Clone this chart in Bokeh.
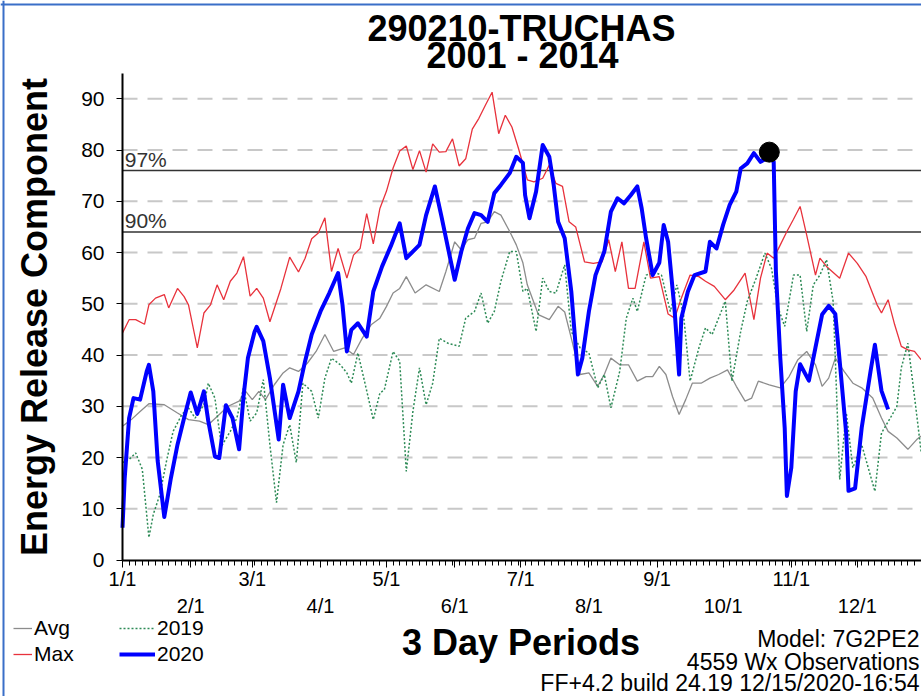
from bokeh.plotting import figure
from bokeh.models import Range1d, FixedTicker, LinearAxis, Label, Legend, LegendItem, Span
from bokeh.embed import file_html
from bokeh.resources import INLINE

# ---------------- data (day of year, ERC value) ----------------
month_days = [0, 31, 59, 90, 120, 151, 181, 212, 243, 273, 304, 334]
month_labels = ["1/1", "2/1", "3/1", "4/1", "5/1", "6/1", "7/1", "8/1", "9/1", "10/1", "11/1", "12/1"]
y_ticks = [0, 10, 20, 30, 40, 50, 60, 70, 80, 90]
year_days = [0, 363]

avg_day = [0, 4, 8, 12, 19, 25, 30, 35, 39, 44, 48, 53, 56, 59, 62, 65, 69, 73, 76, 80, 84, 88, 92, 96,
           101, 105, 109, 113, 117, 120, 123, 126, 129, 133, 138, 144, 147, 151, 154, 157, 160, 163, 166,
           169, 172, 176, 179, 182, 184, 189, 194, 198, 201, 204, 208, 212, 216, 219, 222, 226, 230, 234,
           238, 241, 244, 247, 250, 253, 256, 259, 263, 267, 271, 275, 279, 283, 286, 289, 294, 299, 303,
           307, 311, 315, 318, 321, 324, 328, 332, 336, 341, 345, 348, 352, 357, 361, 363]
avg_val = [26.1, 27.4, 29.0, 30.5, 30.3, 28.7, 27.4, 27.1, 26.4, 28.4, 30.0, 31.0, 32.9, 31.3, 32.9, 31.3,
           34.2, 36.5, 37.5, 36.8, 38.4, 40.7, 44.0, 40.7, 41.4, 40.1, 43.3, 45.9, 47.2, 49.5, 52.1, 53.0,
           55.3, 52.1, 53.7, 52.4, 56.3, 62.1, 60.5, 62.5, 62.8, 65.7, 66.0, 68.0, 67.3, 64.1, 61.5, 58.0,
           53.7, 47.9, 46.9, 49.5, 48.4, 43.3, 36.2, 36.5, 33.9, 36.2, 39.4, 38.1, 38.1, 34.9, 35.8, 35.8,
           37.8, 36.2, 31.9, 28.4, 31.3, 34.5, 34.5, 35.5, 36.2, 37.1, 33.9, 31.0, 31.6, 34.9, 34.2, 33.6,
           35.8, 39.1, 40.7, 38.1, 33.9, 35.5, 39.4, 36.8, 34.5, 33.6, 31.6, 27.7, 25.1, 23.8, 21.6, 23.5, 24.2]

max_day = [0, 3, 6, 10, 12, 15, 19, 21, 25, 28, 30, 34, 37, 40, 43, 46, 49, 52, 55, 58, 61, 64, 67, 72,
           76, 80, 83, 86, 89, 92, 95, 98, 102, 105, 108, 111, 114, 117, 120, 123, 126, 129, 132, 135,
           138, 141, 144, 147, 150, 153, 156, 159, 162, 165, 168, 171, 174, 177, 180, 184, 187, 191, 194,
           197, 200, 203, 206, 210, 214, 218, 221, 224, 227, 230, 233, 237, 240, 244, 248, 251, 254, 258,
           262, 265, 269, 274, 278, 283, 287, 290, 293, 296, 299, 302, 305, 308, 311, 315, 317, 320, 326,
           330, 334, 338, 343, 345, 348, 351, 354, 357, 360, 363]
max_val = [44.3, 46.9, 46.9, 46.0, 49.8, 51.1, 51.8, 49.2, 53.0, 51.4, 49.8, 41.4, 48.2, 49.8, 53.7, 50.8,
           54.4, 56.0, 59.2, 51.5, 53.0, 51.1, 46.5, 53.0, 59.1, 56.2, 58.9, 62.7, 63.8, 66.8, 56.3, 60.8,
           55.0, 59.5, 60.8, 67.6, 61.7, 68.6, 72.0, 76.5, 79.8, 80.8, 76.2, 79.9, 75.7, 81.2, 79.6, 79.7,
           82.2, 76.9, 78.3, 84.1, 86.2, 88.8, 91.3, 83.2, 86.8, 84.5, 80.3, 74.2, 73.8, 74.5, 77.1, 73.5,
           72.9, 66.0, 65.0, 58.2, 57.9, 58.2, 62.5, 56.3, 62.1, 53.0, 53.0, 62.1, 55.0, 55.3, 48.0, 47.2,
           51.1, 55.6, 55.3, 54.4, 53.4, 50.8, 52.7, 56.0, 46.9, 55.0, 59.9, 58.9, 61.5, 64.1, 66.5, 69.0,
           63.4, 55.6, 58.9, 57.3, 55.0, 59.9, 57.9, 55.3, 49.8, 48.2, 50.8, 45.9, 41.7, 41.0, 40.7, 39.1]

y2019_day = [0, 3, 6, 9, 12, 14, 17, 20, 23, 27, 30, 33, 37, 39, 42, 45, 49, 52, 55, 58, 61, 64, 67, 70,
             73, 76, 79, 82, 86, 89, 92, 95, 99, 102, 104, 107, 110, 114, 117, 119, 123, 126, 129, 132,
             135, 138, 141, 144, 148, 153, 156, 160, 163, 166, 169, 172, 176, 179, 182, 184, 188, 191,
             194, 197, 201, 204, 208, 212, 216, 219, 222, 226, 229, 232, 234, 238, 242, 245, 249, 252,
             255, 258, 262, 265, 268, 274, 277, 281, 284, 288, 292, 295, 298, 301, 305, 308, 311, 314,
             317, 320, 323, 324, 326, 329, 332, 336, 342, 345, 349, 352, 354, 357, 360, 363]
y2019_val = [19.0, 19.6, 20.9, 17.7, 4.4, 8.9, 12.8, 19.3, 25.1, 28.4, 29.7, 27.7, 30.3, 34.5, 31.6, 22.2,
             25.1, 27.7, 33.6, 27.1, 28.7, 35.2, 22.5, 11.2, 22.5, 26.4, 19.0, 34.5, 32.9, 27.7, 35.5, 39.4,
             38.1, 36.5, 34.5, 40.4, 34.9, 27.4, 32.6, 33.2, 40.7, 38.8, 17.3, 29.0, 37.5, 30.3, 34.5, 43.3,
             42.3, 41.7, 47.2, 48.5, 52.1, 46.2, 48.5, 54.4, 60.2, 60.2, 52.4, 53.0, 44.6, 55.0, 52.4, 52.1,
             57.6, 44.6, 41.4, 40.4, 33.6, 36.2, 29.7, 36.8, 47.2, 51.1, 48.5, 55.6, 56.1, 55.6, 48.5, 53.7,
             47.9, 34.9, 41.4, 45.3, 44.0, 50.5, 34.9, 44.6, 50.5, 55.0, 59.9, 56.9, 49.2, 45.6, 55.6, 55.6,
             44.6, 53.7, 55.6, 58.6, 50.5, 39.4, 15.7, 28.7, 18.0, 22.5, 13.4, 24.8, 27.7, 30.0, 37.5, 42.3,
             31.9, 21.2]

y2020_day = [0, 1, 3, 5, 8, 11, 12, 14, 16, 19, 22, 25, 28, 31, 34, 37, 39, 42, 44, 47, 50, 53, 55, 57,
             60, 61, 64, 67, 71, 73, 76, 80, 83, 86, 90, 94, 98, 100, 102, 104, 107, 111, 114, 118, 122,
             126, 129, 135, 138, 142, 145, 148, 151, 154, 157, 160, 163, 166, 169, 172, 176, 179, 182,
             183, 185, 188, 191, 194, 196, 198, 201, 204, 207, 209, 212, 215, 219, 222, 225, 228, 231,
             234, 236, 238, 241, 244, 246, 248, 251, 253, 254, 257, 260, 265, 267, 270, 273, 276, 279,
             281, 284, 287, 290, 294, 296, 297, 299, 301, 302, 304, 306, 308, 312, 315, 318, 321, 324,
             326, 329, 330, 333, 336, 340, 342, 345, 348]
y2020_val = [6.3, 16.0, 27.7, 31.6, 31.3, 36.8, 38.1, 32.9, 19.3, 8.4, 16.0, 22.5, 27.7, 32.7, 28.5, 32.9,
             27.1, 20.2, 19.9, 30.2, 27.7, 21.6, 31.9, 39.4, 44.5, 45.5, 42.7, 35.5, 23.5, 34.2, 27.7, 32.9,
             38.8, 44.0, 48.5, 52.1, 56.0, 49.8, 40.7, 44.9, 46.2, 43.6, 52.4, 57.3, 61.3, 65.7, 58.9, 61.5,
             67.3, 72.9, 67.0, 60.8, 54.7, 60.2, 64.7, 67.7, 67.3, 66.0, 71.6, 73.2, 75.5, 78.7, 77.5, 71.2,
             66.7, 71.9, 81.0, 78.7, 73.2, 66.0, 62.8, 52.4, 36.2, 39.4, 48.5, 55.6, 60.2, 68.0, 70.6, 69.6,
             71.2, 72.9, 68.6, 62.8, 55.6, 58.0, 65.4, 62.1, 48.5, 36.2, 47.2, 52.4, 55.6, 56.3, 62.1, 60.8,
             65.4, 69.3, 71.9, 76.4, 77.4, 79.4, 77.7, 78.7, 77.7, 56.3, 39.4, 25.8, 12.5, 18.0, 32.9, 38.2,
             35.0, 41.5, 47.9, 49.6, 48.0, 38.8, 24.5, 13.5, 14.0, 25.8, 36.8, 42.0, 33.0, 29.4]

dot_day = [294]
dot_val = [79.6]

pct_levels = [76, 64]
pct_labels = ["97%", "90%"]

# ---------------- layout (pixels) ----------------
FONT = "Liberation Sans"
W, H = 921, 696
AX_LEFT = 122          # x pixel of day 0
PX_DAY = 2.2
AX_BOTTOM = 559.5      # y pixel of ERC 0
PX_UNIT = 5.124        # pixels per ERC unit
Y_TOP_VAL = 95.0

x0 = -AX_LEFT / PX_DAY
x1 = (W - AX_LEFT) / PX_DAY
y1 = AX_BOTTOM / PX_UNIT
y0 = -(H - AX_BOTTOM) / PX_UNIT

p = figure(width=W, height=H, output_backend="svg", toolbar_location=None,
           x_range=Range1d(x0, x1), y_range=Range1d(y0, y1),
           min_border_left=0, min_border_right=0, min_border_top=0, min_border_bottom=0)
p.outline_line_color = None
p.background_fill_color = "white"
p.border_fill_color = "white"
p.xgrid.visible = False
p.ygrid.visible = False

# blue frame of the original window (left and top edges)
p.add_layout(Span(location=(3 - AX_LEFT) / PX_DAY, dimension="height", line_color="#3a6fc8", line_width=2))
p.add_layout(Span(location=(AX_BOTTOM - 4) / PX_UNIT, dimension="width", line_color="#3a6fc8", line_width=2))

# dashed horizontal grid (only across the data area)
grid_vals = y_ticks[1:]
p.segment(x0=[year_days[0]] * len(grid_vals), x1=[year_days[1]] * len(grid_vals),
          y0=grid_vals, y1=grid_vals, line_color="#c8c8c8", line_width=2, line_dash="15 10")

# y axis
ya = p.yaxis[0]
ya.fixed_location = 0
ya.bounds = (0, Y_TOP_VAL)
ya.ticker = FixedTicker(ticks=y_ticks)
ya.axis_line_width = 2
ya.axis_line_color = "black"
ya.major_tick_out = 6
ya.major_tick_in = 0
ya.minor_tick_line_color = None
ya.major_label_standoff = 12
ya.major_label_text_font = FONT
ya.major_label_text_font_size = "21px"
ya.major_label_text_color = "black"
ya.axis_label = "Energy Release Component"
ya.axis_label_text_font = FONT
ya.axis_label_text_font_size = "36px"
ya.axis_label_text_font_style = "bold"
ya.axis_label_text_color = "black"
ya.axis_label_standoff = 23

# x axis, row 1 (odd months) with ticks
xa = p.xaxis[0]
xa.fixed_location = 0
xa.bounds = (year_days[0], year_days[1])
xa.ticker = FixedTicker(ticks=month_days, minor_ticks=list(range(0, 366, 3)))
xa.major_label_overrides = {d: (lab if i % 2 == 0 else "") for i, (d, lab) in enumerate(zip(month_days, month_labels))}
xa.axis_line_width = 2
xa.axis_line_color = "black"
xa.major_tick_out = 7
xa.major_tick_in = 0
xa.minor_tick_out = 5
xa.minor_tick_in = 0
xa.major_label_standoff = 1
xa.major_label_text_font = FONT
xa.major_label_text_font_size = "20px"
xa.major_label_text_color = "black"

# x axis, row 2 (even months) + axis title
even_days = month_days[1::2]
even_labels = month_labels[1::2]
xa2 = LinearAxis(ticker=FixedTicker(ticks=even_days), fixed_location=0,
                 bounds=(year_days[0] - 1, year_days[1]),
                 major_label_overrides={d: lab for d, lab in zip(even_days, even_labels)},
                 axis_line_color=None, major_tick_line_color=None, minor_tick_line_color=None,
                 major_tick_out=0, major_tick_in=0, major_label_standoff=35,
                 major_label_text_font=FONT, major_label_text_font_size="20px",
                 major_label_text_color="black",
                 axis_label="3 Day Periods", axis_label_text_font=FONT,
                 axis_label_text_font_size="36px", axis_label_text_font_style="bold",
                 axis_label_text_color="black", axis_label_standoff=1)
p.add_layout(xa2, "below")

# percentile lines
p.segment(x0=[year_days[0]] * len(pct_levels), x1=[year_days[1]] * len(pct_levels),
          y0=pct_levels, y1=pct_levels, line_color="#333333", line_width=1.5)
for lvl, lab in zip(pct_levels, pct_labels):
    p.add_layout(Label(x=1, y=lvl, text=lab, text_font=FONT, text_font_size="21px",
                       text_color="#333333", text_baseline="bottom"))

# series
r_avg = p.line(avg_day, avg_val, line_color="#8c8c8c", line_width=1.3)
r_max = p.line(max_day, max_val, line_color="#e8323c", line_width=1.3)
r_19 = p.line(y2019_day, y2019_val, line_color="#2e8b57", line_width=1.5, line_dash="2 2")
r_20 = p.line(y2020_day, y2020_val, line_color="#0000ff", line_width=4, line_join="round")
p.scatter(dot_day, dot_val, size=20, color="black")

# legends (bottom-left)
leg_common = dict(label_text_font=FONT, label_text_font_size="21px", label_text_color="black",
                  label_standoff=2, spacing=2, padding=0, margin=0, label_height=24, glyph_height=20,
                  background_fill_alpha=0, border_line_alpha=0)
leg1 = Legend(items=[LegendItem(label="Avg", renderers=[r_avg]), LegendItem(label="Max", renderers=[r_max])],
              location=(13, 30), glyph_width=19, **leg_common)
leg2 = Legend(items=[LegendItem(label="2019", renderers=[r_19]), LegendItem(label="2020", renderers=[r_20])],
              location=(119, 30), glyph_width=36, **leg_common)
p.add_layout(leg1)
p.add_layout(leg2)

# title (two lines)
p.add_layout(Label(x=521, y=H - 28, x_units="screen", y_units="screen", text="290210-TRUCHAS",
                   text_font=FONT, text_font_size="36px", text_font_style="bold", text_color="black",
                   text_align="center", text_baseline="middle"))
p.add_layout(Label(x=522, y=H - 55, x_units="screen", y_units="screen", text="2001 - 2014",
                   text_font=FONT, text_font_size="36px", text_font_style="bold", text_color="black",
                   text_align="center", text_baseline="middle"))

# footer info (bottom-right)
info = ["Model: 7G2PE2", "4559 Wx Observations", "FF+4.2 build 24.19 12/15/2020-16:54"]
info_y = [638, 661, 682]
for t, yy in zip(info, info_y):
    p.add_layout(Label(x=W - 2, y=H - yy, x_units="screen", y_units="screen", text=t,
                       text_font=FONT, text_font_size="23px", text_color="black",
                       text_align="right", text_baseline="middle"))

open("out.html", "w").write(file_html(p, INLINE))
